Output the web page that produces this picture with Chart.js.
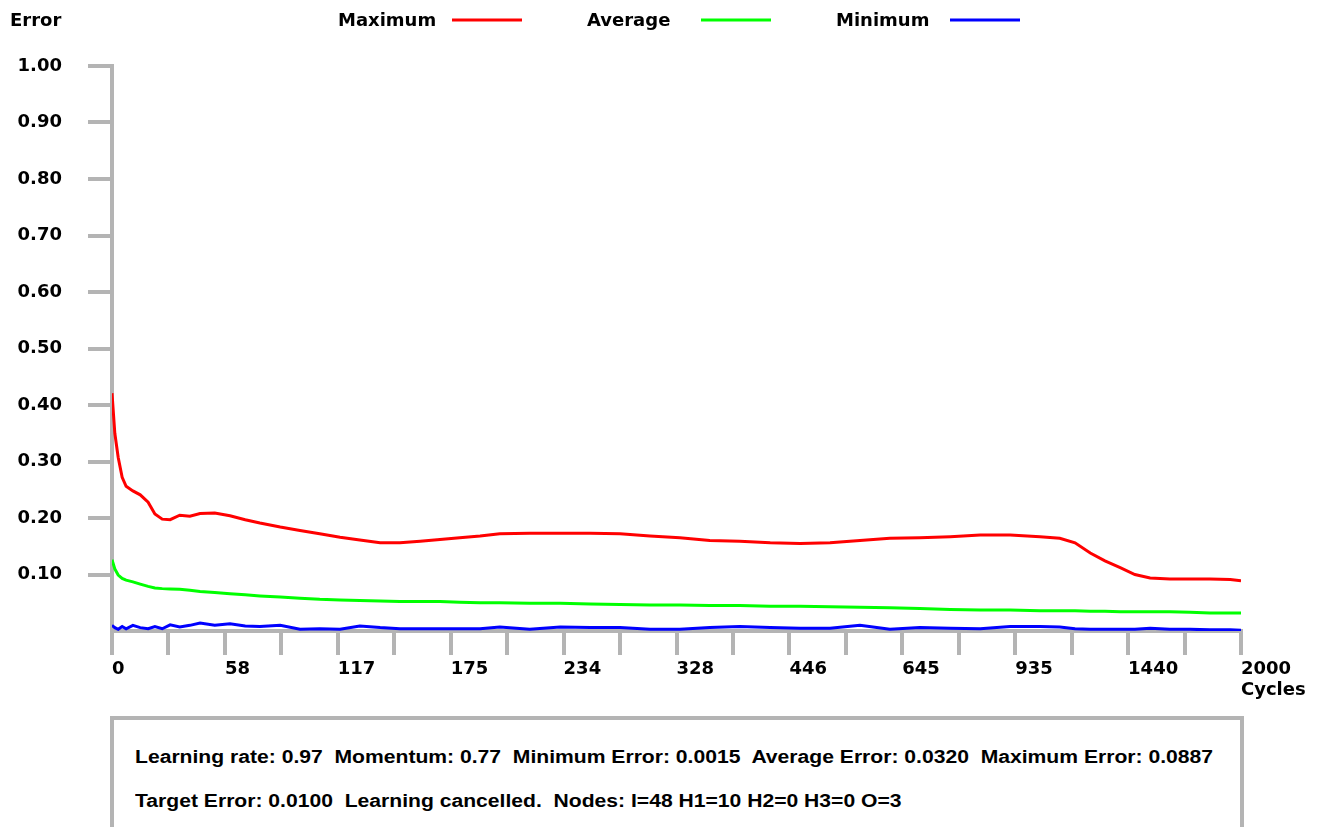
<!DOCTYPE html>
<html>
<head>
<meta charset="utf-8">
<script src="https://cdn.jsdelivr.net/npm/chart.js"></script>
<style>
  html, body { margin: 0; padding: 0; background: #fff; overflow: hidden; }
  #wrap { position: relative; width: 1325px; height: 827px; }
  #chart { position: absolute; left: 0; top: 0; }
  #info {
    position: absolute; left: 110px; top: 716px; width: 1126px; height: 140px;
    border: 4px solid #b4b4b4; background: #fff;
    font: bold 18px "Liberation Sans", Arial, sans-serif; color: #000;
  }
  #info div {
    position: absolute; left: 21px; white-space: pre;
    transform: scaleX(1.173); transform-origin: 0 0;
  }
</style>
</head>
<body>
<div id="wrap">
  <canvas id="chart" width="1325" height="827"></canvas>
  <div id="info">
    <div style="top: 27px">Learning rate: 0.97  Momentum: 0.77  Minimum Error: 0.0015  Average Error: 0.0320  Maximum Error: 0.0887</div>
    <div style="top: 71px">Target Error: 0.0100  Learning cancelled.  Nodes: I=48 H1=10 H2=0 H3=0 O=3</div>
  </div>
</div>
<script>
// labels under every second tick of the cycles axis (20 tick steps)
const xTickLabels = ['0', '58', '117', '175', '234', '328', '446', '645', '935', '1440', '2000'];

// sample positions along the axis, in tick steps
const samplePos = [0, 0.05, 0.11, 0.18, 0.25, 0.37, 0.50, 0.64, 0.76, 0.89,
  1.03, 1.20, 1.38, 1.56, 1.82, 2.09, 2.36, 2.62, 2.98, 3.33,
  3.68, 4.04, 4.39, 4.75, 5.10, 5.46, 5.81, 6.16, 6.52, 6.87,
  7.40, 7.94, 8.47, 9.00, 9.53, 10.06, 10.59, 11.12, 11.66, 12.19,
  12.72, 13.25, 13.78, 14.31, 14.85, 15.38, 15.91, 16.44, 16.79, 17.06,
  17.33, 17.59, 17.86, 18.12, 18.39, 18.74, 19.10, 19.45, 19.81, 20];

const maxError = [0.421, 0.350, 0.307, 0.272, 0.256, 0.248, 0.241, 0.228, 0.207, 0.198,
  0.197, 0.205, 0.203, 0.208, 0.209, 0.204, 0.197, 0.191, 0.184, 0.178,
  0.172, 0.166, 0.161, 0.156, 0.156, 0.159, 0.162, 0.165, 0.168, 0.172,
  0.173, 0.173, 0.173, 0.172, 0.168, 0.165, 0.160, 0.159, 0.156, 0.155,
  0.156, 0.160, 0.164, 0.165, 0.167, 0.170, 0.170, 0.167, 0.164, 0.156,
  0.138, 0.124, 0.112, 0.100, 0.094, 0.092, 0.092, 0.092, 0.091, 0.0887];

const avgError = [0.126, 0.110, 0.099, 0.093, 0.090, 0.087, 0.083, 0.079, 0.076, 0.075,
  0.0745, 0.074, 0.072, 0.070, 0.068, 0.066, 0.064, 0.062, 0.060, 0.058,
  0.056, 0.055, 0.054, 0.053, 0.052, 0.052, 0.052, 0.051, 0.050, 0.050,
  0.049, 0.049, 0.048, 0.047, 0.046, 0.046, 0.045, 0.045, 0.044, 0.044,
  0.043, 0.042, 0.041, 0.040, 0.038, 0.037, 0.037, 0.036, 0.036, 0.036,
  0.035, 0.035, 0.034, 0.034, 0.034, 0.034, 0.033, 0.032, 0.032, 0.032];

const minError = [0.010, 0.006, 0.003, 0.008, 0.004, 0.010, 0.006, 0.004, 0.008, 0.004,
  0.011, 0.007, 0.010, 0.014, 0.010, 0.013, 0.009, 0.008, 0.010, 0.003,
  0.004, 0.003, 0.009, 0.006, 0.004, 0.004, 0.004, 0.004, 0.004, 0.007,
  0.003, 0.007, 0.006, 0.006, 0.003, 0.003, 0.006, 0.008, 0.006, 0.005,
  0.005, 0.010, 0.003, 0.006, 0.005, 0.004, 0.008, 0.008, 0.007, 0.004,
  0.003, 0.003, 0.003, 0.003, 0.005, 0.003, 0.003, 0.002, 0.002, 0.0015];

const AXIS_GRAY = '#b4b4b4';
const FONT = 'bold 18px "DejaVu Sans", sans-serif';

const toPoints = arr => arr.map((v, i) => ({ x: samplePos[i], y: v }));

// legend (text first, then line sample), plus the two axis captions
const annotations = {
  id: 'annotations',
  afterDraw(chart) {
    const ctx = chart.ctx;
    ctx.save();
    ctx.font = FONT;
    ctx.fillStyle = '#000';
    ctx.textBaseline = 'middle';
    ctx.textAlign = 'left';
    ctx.fillText('Error', 10, 21);
    ctx.fillText('Cycles', chart.chartArea.right, 690);

    let x = 338;
    chart.data.datasets.forEach(ds => {
      ctx.fillStyle = '#000';
      ctx.fillText(ds.label, x, 21);
      ctx.strokeStyle = ds.borderColor;
      ctx.lineWidth = 3;
      ctx.beginPath();
      ctx.moveTo(x + 114, 20);
      ctx.lineTo(x + 184, 20);
      ctx.stroke();
      x += 249;
    });
    ctx.restore();
  }
};

new Chart(document.getElementById('chart').getContext('2d'), {
  type: 'line',
  data: {
    datasets: [
      { label: 'Maximum', data: toPoints(maxError), borderColor: '#ff0000' },
      { label: 'Average', data: toPoints(avgError), borderColor: '#00ff00' },
      { label: 'Minimum', data: toPoints(minError), borderColor: '#0000ff' }
    ]
  },
  options: {
    responsive: false,
    animation: false,
    layout: { padding: { left: 0, top: 66, right: 84, bottom: 0 } },
    elements: {
      line: { borderWidth: 3, tension: 0, fill: false },
      point: { radius: 0 }
    },
    plugins: {
      legend: { display: false },
      tooltip: { enabled: false }
    },
    scales: {
      x: {
        type: 'linear',
        min: 0,
        max: 20,
        afterFit: s => { s.height = 196; },
        grid: { drawOnChartArea: false, drawTicks: true, tickLength: 24, lineWidth: 4, color: AXIS_GRAY },
        border: { display: true, width: 4, color: AXIS_GRAY },
        ticks: {
          stepSize: 1,
          autoSkip: false,
          maxRotation: 0,
          align: 'start',
          padding: 4,
          color: '#000',
          font: { family: '"DejaVu Sans", sans-serif', size: 18, weight: 'bold' },
          callback: v => (v % 2 === 0 ? xTickLabels[v / 2] : '')
        }
      },
      y: {
        min: 0,
        max: 1,
        afterFit: s => { s.width = 112; },
        afterBuildTicks: s => { s.ticks = s.ticks.filter(t => t.value > 0.001); },
        grid: { drawOnChartArea: false, drawTicks: true, tickLength: 24, lineWidth: 4, color: AXIS_GRAY },
        border: { display: true, width: 4, color: AXIS_GRAY },
        ticks: {
          stepSize: 0.1,
          padding: 26,
          color: '#000',
          font: { family: '"DejaVu Sans", sans-serif', size: 18, weight: 'bold' },
          callback: v => v.toFixed(2)
        }
      }
    }
  },
  plugins: [annotations]
});
</script>
</body>
</html>
